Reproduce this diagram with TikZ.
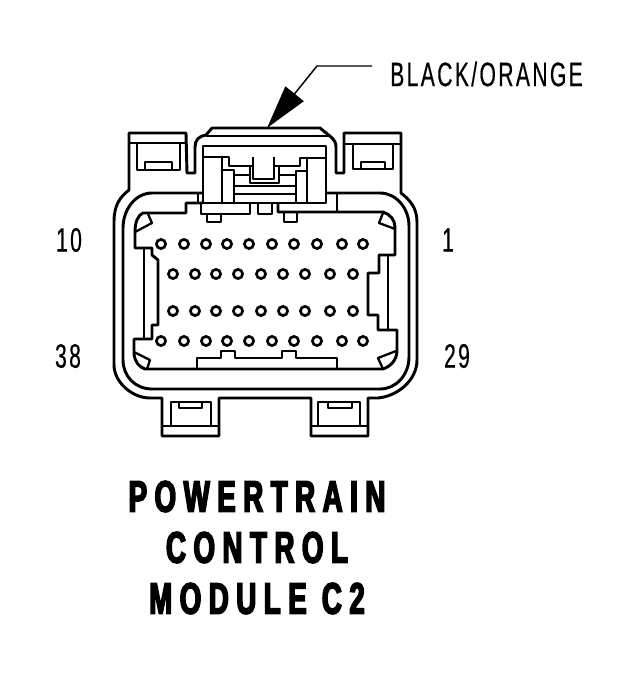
\documentclass[tikz,border=0pt]{standalone}
\usepackage{fontspec}
\usetikzlibrary{arrows.meta}
\newfontfamily\calloutfont[FakeStretch=0.62,LetterSpace=7,FakeBold=0.4]{Liberation Sans}
\newfontfamily\titlefont[FakeStretch=0.63,LetterSpace=17,FakeBold=3.5]{Liberation Sans Bold}

\begin{document}
\begin{tikzpicture}[x=.75pt, y=-.75pt,
  housing/.style={line width=2.2pt, line join=round},
  detail/.style={line width=1.7pt, line join=round},
  pin/.style={line width=2pt},
  callout/.style={font=\calloutfont\fontsize{25.5}{28}\selectfont, inner sep=0pt},
  leader/.style={line width=1.1pt, -{Triangle[length=33pt,width=17.5pt]}}]

\useasboundingbox (0,0) rectangle (640,679);

% Draw the outer housing
\draw[housing] (186,133) -- (129,133) -- (129,190) .. controls (120,197) and (114,205) .. (114,222)
  -- (114,365) .. controls (114,382) and (132,398) .. (150,398)
  -- (162,398) -- (162,436) -- (219,436) -- (219,398) -- (311,398) -- (311,436) -- (368,436) -- (368,398)
  -- (378,398) .. controls (398,396) and (417,380) .. (417,360)
  -- (417,222) .. controls (417,208) and (410,200) .. (401,193)
  -- (401,133) -- (344,133) -- (344,173) -- (336,173) -- (336,147)
  .. controls (336,142) and (334,140) .. (331,137) -- (320,128) -- (212,128) -- (206,135)
  .. controls (199,136) and (195,140) .. (195,147) -- (195,173) -- (187,173) -- cycle;
\draw[housing] (206,136) -- (331,136);

% Draw the inner wall
\draw[housing] (203,193) -- (152,193) .. controls (135,193) and (123,210) .. (123,228)
  -- (123,360) .. controls (123,376) and (135,389) .. (152,389)
  -- (380,389) .. controls (396,389) and (409,375) .. (409,357)
  -- (409,226) .. controls (409,208) and (396,193) .. (380,193) -- (326,193);
\draw[detail] (337,193) -- (337,212);
\draw[detail] (198,193) -- (198,204);

% Top ears
\draw[detail] (129,143) -- (186,143);
\draw[detail] (137,143) -- (137,170) -- (180,170) -- (180,143);
\draw[detail] (145,170) -- (145,162) -- (172,162) -- (172,170);
\draw[detail] (344,144) -- (401,144);
\draw[detail] (353,144) -- (353,169) -- (393,169) -- (393,144);
\draw[detail] (361,169) -- (361,162) -- (385,162) -- (385,169);

% Bottom tabs
\draw[detail] (162,426) -- (219,426);
\draw[detail] (171,426) -- (171,402) -- (211,402) -- (211,426);
\draw[detail] (179,402) -- (179,408) -- (202,408) -- (202,402);
\draw[detail] (311,426) -- (368,426);
\draw[detail] (318,426) -- (318,402) -- (360,402) -- (360,426);
\draw[detail] (328,402) -- (328,408) -- (352,408) -- (352,402);

% Draw the latch
\draw[housing] (203,203) -- (203,146) -- (326,146) -- (326,203) -- (203,203);
\draw[detail] (203,157) -- (222,157) -- (229,157) -- (229,166) -- (253,166);
\draw[detail] (253,157) -- (253,179) -- (274,179) -- (274,157);
\draw[detail] (274,166) -- (300,166) -- (300,158) -- (326,158);
\draw[detail] (222,157) -- (222,203);
\draw[detail] (307,158) -- (307,203);
\draw[detail] (222,170) -- (234,170) -- (234,203);
\draw[detail] (307,171) -- (296,171) -- (296,203);
\draw[detail] (234,175) -- (250,175) -- (250,166);
\draw[detail] (296,175) -- (279,175) -- (279,166);
\draw[detail] (250,175) -- (250,183) -- (279,183) -- (279,175);
\draw[housing] (234,186) -- (296,186);
\draw[detail] (234,194) -- (296,194);

% Draw the cavity
\draw[housing] (203,203) -- (186,203) -- (186,213) -- (143,213) .. controls (138,215) and (135,222) .. (135,232) -- (135,248)
  -- (152,248) -- (152,255) -- (158,260) -- (158,325) -- (152,325) -- (152,339) -- (134,339) -- (134,354)
  .. controls (135,362) and (139,367) .. (145,369) -- (383,369) .. controls (391,366) and (397,360) .. (397,350)
  -- (397,330) -- (378,330) -- (378,315) -- (368,315) -- (368,273) -- (379,273) -- (379,255) -- (395,255)
  -- (395,227) .. controls (395,220) and (390,214) .. (383,212) -- (278,212) -- (278,204);
\draw[detail] (144,248) -- (144,339);
\draw[detail] (388,255) -- (388,330);

% Corner keys
\draw[detail] (135,232) -- (152,223) -- (148,214);
\draw[detail] (134,352) -- (150,360) -- (147,369);
\draw[detail] (383,213) -- (379,223) -- (395,229);
\draw[detail] (383,369) -- (378,358) -- (396,351);

% Ribs on the cavity walls
\draw[detail] (201,204) -- (201,214) -- (250,214) -- (250,204);
\draw[detail] (207,214) -- (207,222) -- (221,222) -- (221,214);
\draw[detail] (258,204) -- (258,214) -- (272,214) -- (272,204);
\draw[detail] (284,212) -- (284,222) -- (297,222) -- (297,212);
\draw[detail] (197,369) -- (197,358) -- (221,358) -- (221,351) -- (235,351) -- (235,358) -- (282,358)
  -- (282,351) -- (296,351) -- (296,358) -- (337,358) -- (337,369);

% Draw the pins
\foreach \y in {244,341}
  \foreach \x in {161,184,206,227,249,272,294,317,342,363}
    \draw[pin] (\x,\y) circle (4.6);
\foreach \y in {274,311}
  \foreach \x in {173,195,216,238,261,283,305,330,353}
    \draw[pin] (\x,\y) circle (4.6);

% Place the pin numbers
\node[callout] (pinten) at (69,240) {10};
\node[callout] (pinone) at (448,240) {1};
\node[callout] (pinlow) at (68,356) {38};
\node[callout] (pinnine) at (457,356) {29};

% Label the wire colour
\node[callout, anchor=west] (wirecolor) at (390,74) {BLACK/ORANGE};
\coordinate (leadstart) at (372,66);
\coordinate (leadbend) at (317,66);
\coordinate (leadtip) at (267,128);
\draw[leader] (leadstart) -- (leadbend) -- (leadtip);

% Label the figure
\node[align=center, inner sep=0pt, font=\titlefont\fontsize{33}{38.25}\selectfont] (title) at (257,547.5)
  {POWERTRAIN\\CONTROL\\MODULE C2};

\end{tikzpicture}
\end{document}
